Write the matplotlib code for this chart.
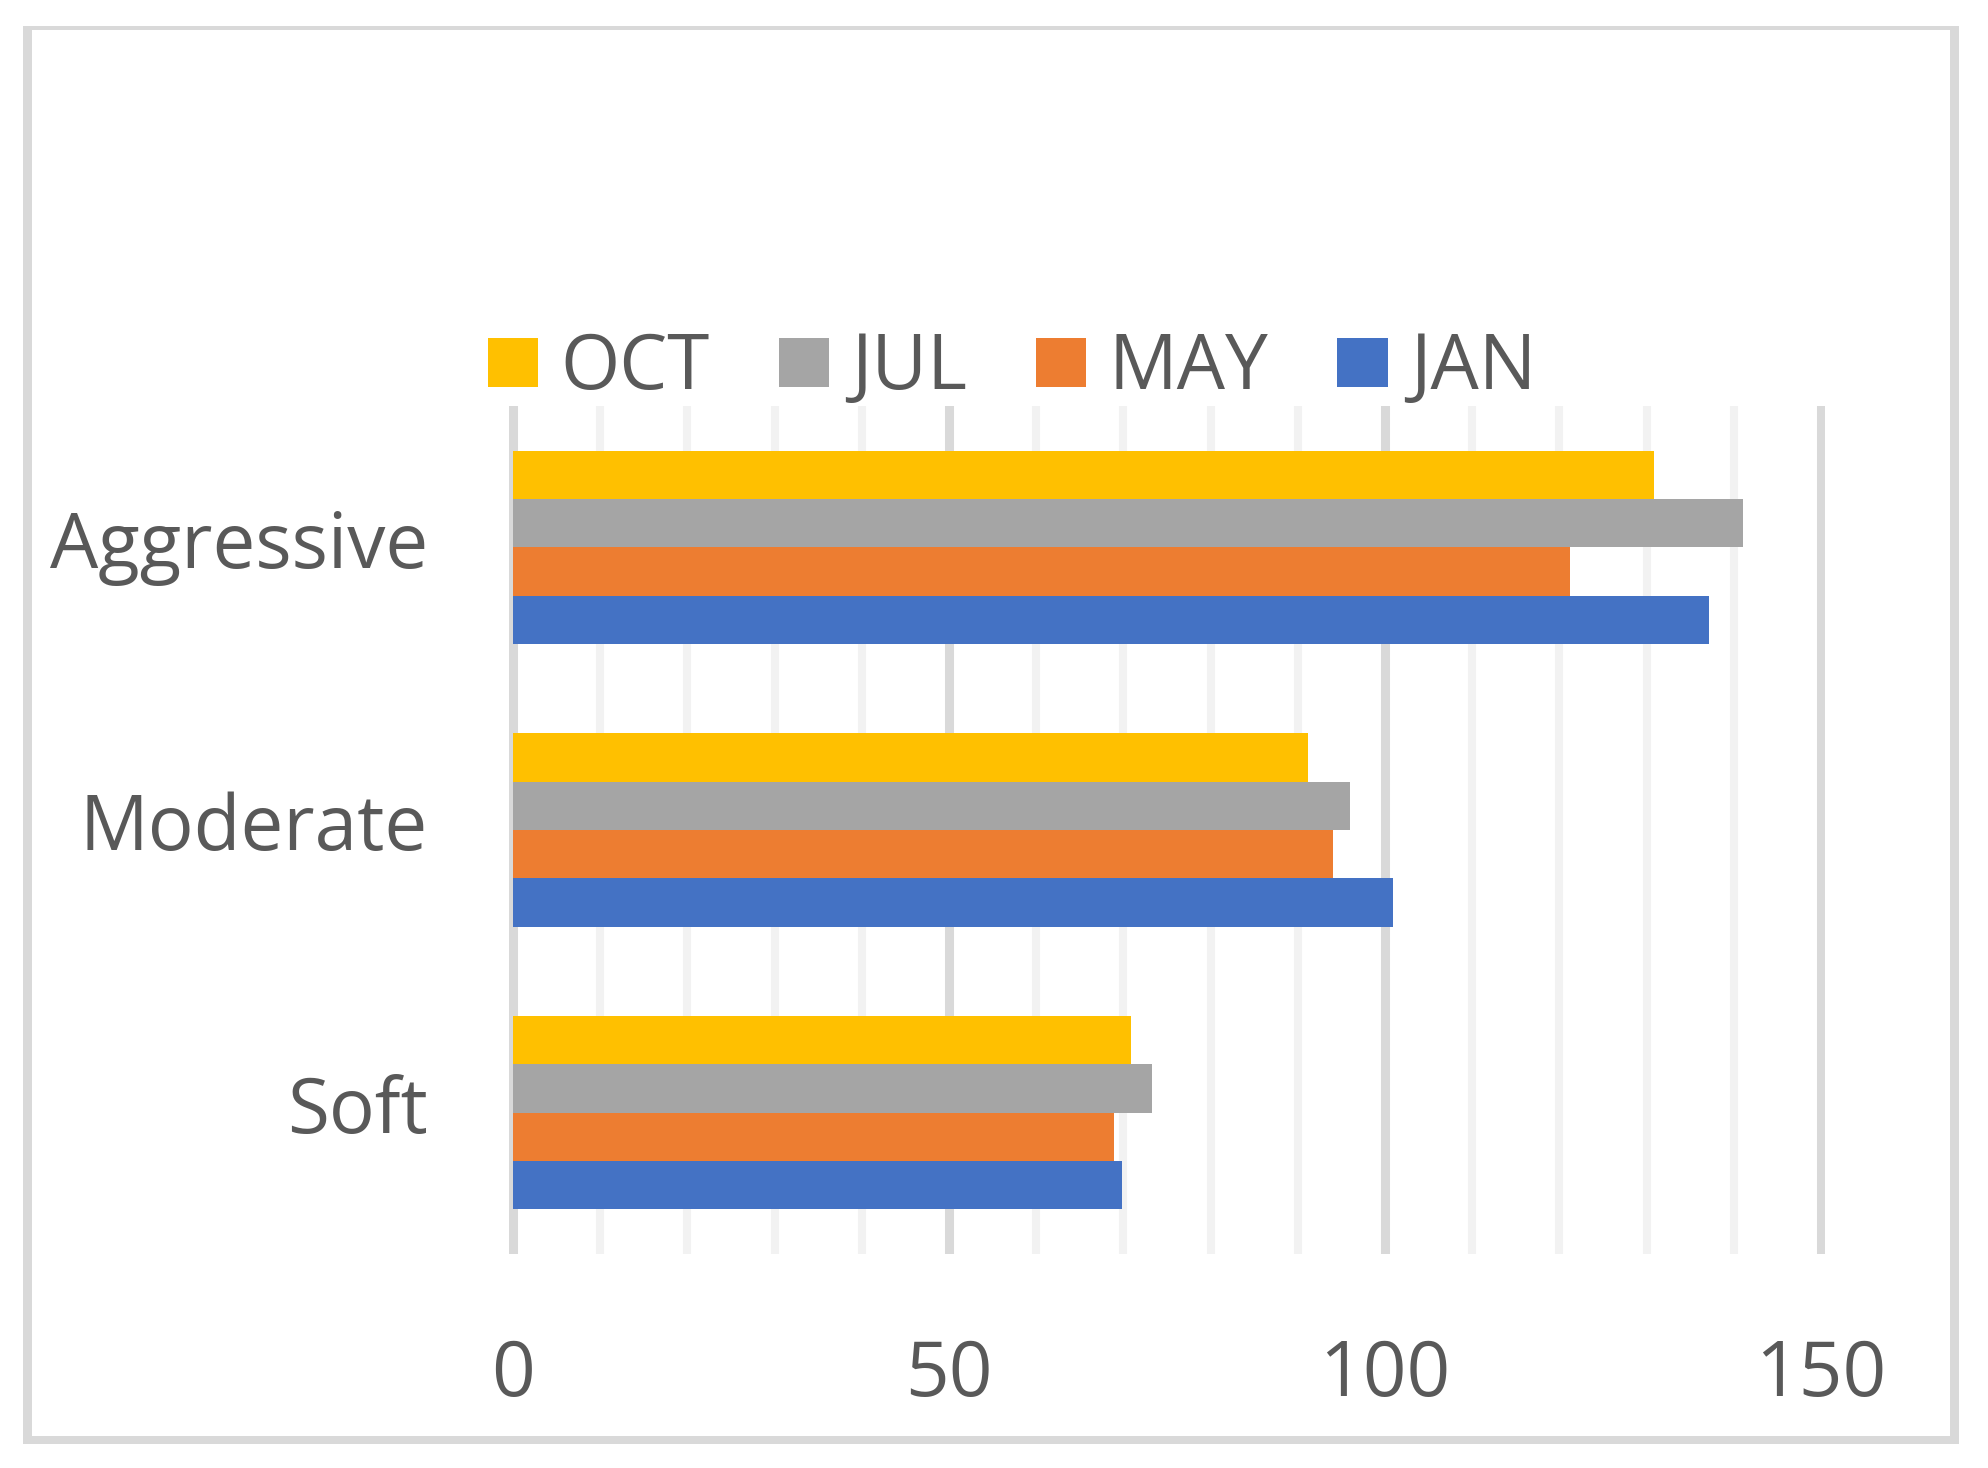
import matplotlib
matplotlib.use("Agg")
import matplotlib.pyplot as plt
from matplotlib.patches import Rectangle, Patch
from matplotlib.ticker import MultipleLocator
import numpy as np

categories = ["Soft", "Moderate", "Aggressive"]
series_names = ["JAN", "MAY", "JUL", "OCT"]
jan = [69.8, 100.9, 137.2]
may = [68.9, 94.0, 121.2]
jul = [73.3, 96.0, 141.1]
octo = [70.9, 91.2, 130.8]
x_ticks = [0, 50, 100, 150]

colors = {"JAN": "#4472C4", "MAY": "#ED7D31", "JUL": "#A5A5A5", "OCT": "#FFC000"}
values = {"JAN": jan, "MAY": may, "JUL": jul, "OCT": octo}

plt.rcParams['font.family'] = ['Open Sans', 'DejaVu Sans']
TXT = "#595959"
FS = 55

W, H = 1988, 1468
fig = plt.figure(figsize=(W / 100, H / 100), dpi=100)

# axes placement (pixels)
ax_l, ax_r = 508.6, 1825.4
ax_t, ax_b = 406, 1254
ax = fig.add_axes([ax_l / W, 1 - ax_b / H, (ax_r - ax_l) / W, (ax_b - ax_t) / H])

y = np.arange(len(categories))
h = 0.171
offsets = {"JAN": -1.5 * h, "MAY": -0.5 * h, "JUL": 0.5 * h, "OCT": 1.5 * h}
for s in series_names:
    ax.barh(y + offsets[s], values[s], height=h, color=colors[s], zorder=3, label=s)

ax.set_xlim(-0.5, 150.5)
ax.set_ylim(-0.5, 2.5)
ax.xaxis.set_major_locator(MultipleLocator(50))
ax.xaxis.set_minor_locator(MultipleLocator(10))
ax.set_xticks(x_ticks)
ax.set_xticklabels([str(t) for t in x_ticks])
ax.set_yticks(y)
ax.set_yticklabels(categories)
for lbl in ax.get_yticklabels():
    lbl.set_verticalalignment('center')
ax.grid(which='major', axis='x', color='#D9D9D9', linewidth=6.5, zorder=0)
ax.grid(which='minor', axis='x', color='#F2F2F2', linewidth=5.8, zorder=0)
ax.grid(which='major', axis='y', visible=False)
ax.set_axisbelow(True)
for sp in ax.spines.values():
    sp.set_visible(False)
ax.tick_params(axis='x', which='both', length=0, pad=60, labelsize=FS, labelcolor=TXT)
ax.tick_params(axis='y', which='both', length=0, pad=58, labelsize=FS, labelcolor=TXT)

handles = [Patch(facecolor=colors[s], edgecolor='none') for s in ["OCT", "JUL", "MAY", "JAN"]]
fig.legend(handles, ["OCT", "JUL", "MAY", "JAN"], loc='center',
           bbox_to_anchor=(1012 / W, 1 - 369 / H), ncol=4, frameon=False,
           fontsize=FS, labelcolor=TXT, handlelength=0.66, handleheight=0.61,
           handletextpad=0.29, columnspacing=0.9, borderpad=0, borderaxespad=0)

# outer chart border
bc = "#D9D9D9"
def prect(x0, y0, x1, y1):
    fig.add_artist(Rectangle((x0 / W, 1 - y1 / H), (x1 - x0) / W, (y1 - y0) / H,
                             transform=fig.transFigure, facecolor=bc, edgecolor='none'))
prect(23, 26, 1959, 30)      # top
prect(23, 1436, 1959, 1444)  # bottom
prect(23, 26, 32, 1444)      # left
prect(1950, 26, 1959, 1444)  # right

fig.savefig("out.png", dpi=100, facecolor='white')
